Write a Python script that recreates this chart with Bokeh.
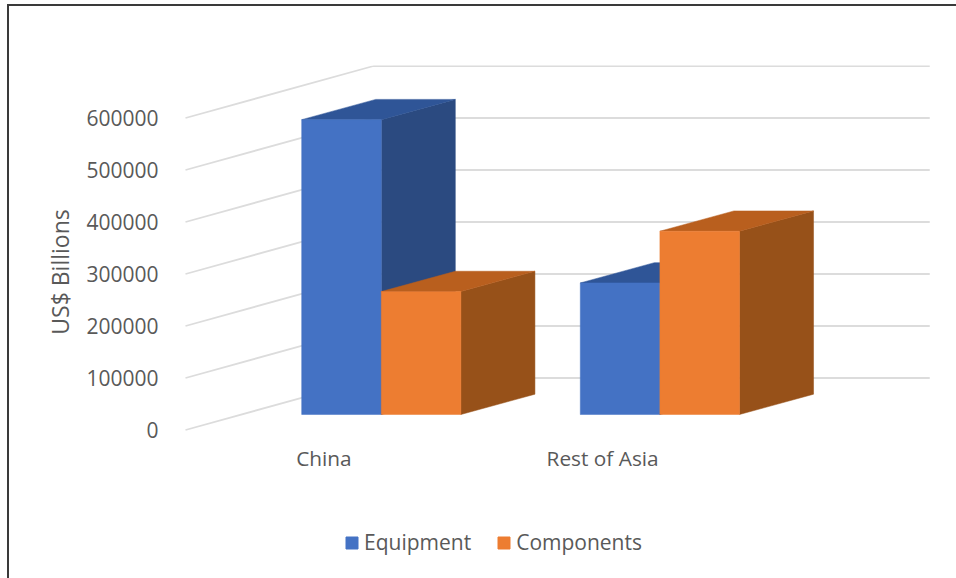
from bokeh.plotting import figure
from bokeh.layouts import column
from bokeh.models import Range1d, FixedTicker, Legend, LegendItem
from bokeh.embed import file_html
from bokeh.resources import INLINE

categories = ["China", "Rest of Asia"]
equipment = [567000, 253000]
components = [236500, 352500]
y_ticks = [0, 100000, 200000, 300000, 400000, 500000, 600000]
series_names = ["Equipment", "Components"]

FONT = "Open Sans"
TEXT = "#595959"
FILL = {"Equipment": ("#4472C4", "#2B4A80", "#2F5597"),
        "Components": ("#ED7D31", "#975119", "#B95F1E")}

# pixel geometry of the plotting frame (page coordinates)
LEFT, TOP = 9, 6                  # where the drawing area starts on the page
L, R, T, B = 165, 946, 65, 478
SPLIT = 500                       # page y where the legend strip begins
X0_PX, UNIT_PX = 301.2, 79.6      # first bar's left edge, one bar width
Y0_PX, VAL_PX = 429.5, 52 / 100000  # front-wall zero, pixels per unit value

GROUP_STEP = 3.5                  # bars per category step
BAR_DX, BAR_DY = 0.93, 39000      # bar depth
FLOOR = 29800                     # front of the bars above the wall's front
WALL_X0 = -1.46                   # front edge of the wall gridlines
WALL_DX, WALL_DY = 2.362, 100000  # wall depth
GRID_END = 7.89

p = figure(width=956 - LEFT, height=SPLIT - TOP, output_backend="svg", toolbar_location=None,
           x_range=Range1d((L - X0_PX) / UNIT_PX, (R - X0_PX) / UNIT_PX),
           y_range=Range1d((Y0_PX - B) / VAL_PX, (Y0_PX - T) / VAL_PX),
           min_border_left=L - LEFT, min_border_right=956 - R,
           min_border_top=T - TOP, min_border_bottom=SPLIT - B,
           background_fill_color="white", border_fill_color="white",
           outline_line_color=None)
p.grid.visible = False

# walls: gridlines go front-left to back, then run along the back wall
for v in y_ticks:
    p.line([WALL_X0, WALL_X0 + WALL_DX, GRID_END],
           [v, v + WALL_DY, v + WALL_DY],
           line_color="#DCDCDC", line_width=1.8)

def bar(x, v, name):
    front, side, top = FILL[name]
    y0, y1 = FLOOR, FLOOR + v
    x1 = x + 1
    p.patch([x1, x1 + BAR_DX, x1 + BAR_DX, x1],
            [y0, y0 + BAR_DY, y1 + BAR_DY, y1], fill_color=side, line_color=side, line_width=0.5)
    p.patch([x, x + BAR_DX, x1 + BAR_DX, x1],
            [y1, y1 + BAR_DY, y1 + BAR_DY, y1], fill_color=top, line_color=top, line_width=0.5)
    p.quad(left=x, right=x1, bottom=y0, top=y1, fill_color=front, line_color=front, line_width=0.5)

for i, cat in enumerate(categories):
    bar(i * GROUP_STEP, equipment[i], "Equipment")
    bar(i * GROUP_STEP + 1, components[i], "Components")

# axes
ya = p.yaxis[0]
ya.ticker = FixedTicker(ticks=y_ticks)
ya.formatter.use_scientific = False
ya.axis_line_color = None
ya.major_tick_line_color = None
ya.minor_tick_line_color = None
ya.major_tick_out = 0
ya.major_label_standoff = 7
ya.major_label_text_font = FONT
ya.major_label_text_font_size = "21px"
ya.major_label_text_color = TEXT
ya.axis_label = "US$ Billions"
ya.axis_label_text_font = FONT
ya.axis_label_text_font_size = "23px"
ya.axis_label_text_font_style = "normal"
ya.axis_label_text_color = TEXT
ya.axis_label_standoff = 7

xa = p.xaxis[0]
ticks = [i * GROUP_STEP + 0.28 for i in range(len(categories))]
xa.ticker = FixedTicker(ticks=ticks)
xa.major_label_overrides = {t: c for t, c in zip(ticks, categories)}
xa.axis_line_color = None
xa.major_tick_line_color = None
xa.minor_tick_line_color = None
xa.major_tick_out = 0
xa.major_label_standoff = -35
xa.major_label_text_font = FONT
xa.major_label_text_font_size = "20.8px"
xa.major_label_text_color = TEXT

# legend strip: a figure of its own, so the key can sit well below the axes
lf = figure(width=956 - LEFT, height=578 - SPLIT, output_backend="svg", toolbar_location=None,
            x_axis_location=None, y_axis_location=None,
            x_range=Range1d(0, 1), y_range=Range1d(0, 1),
            min_border=0, outline_line_color=None,
            background_fill_color="white", border_fill_color="white")
lf.grid.visible = False
items = []
for n in series_names:
    r = lf.quad(left=[2], right=[3], bottom=[2], top=[3], fill_color=FILL[n][0], line_color=FILL[n][0])
    items.append(LegendItem(label=n, renderers=[r]))
legend = Legend(items=items, orientation="horizontal", location=(179, 22),
                border_line_color=None, background_fill_alpha=0,
                glyph_width=15, glyph_height=15, label_standoff=5, spacing=25,
                padding=8, margin=0,
                label_text_font=FONT, label_text_font_size="21px", label_text_color=TEXT)
lf.add_layout(legend, "center")

page = column(p, lf, spacing=0)
page.styles = {"border-left": "2px solid #3a3a3a", "border-top": "2px solid #3a3a3a",
               "margin-left": "7px", "margin-top": "4px", "box-sizing": "content-box"}

open("out.html", "w").write(file_html(page, INLINE))
